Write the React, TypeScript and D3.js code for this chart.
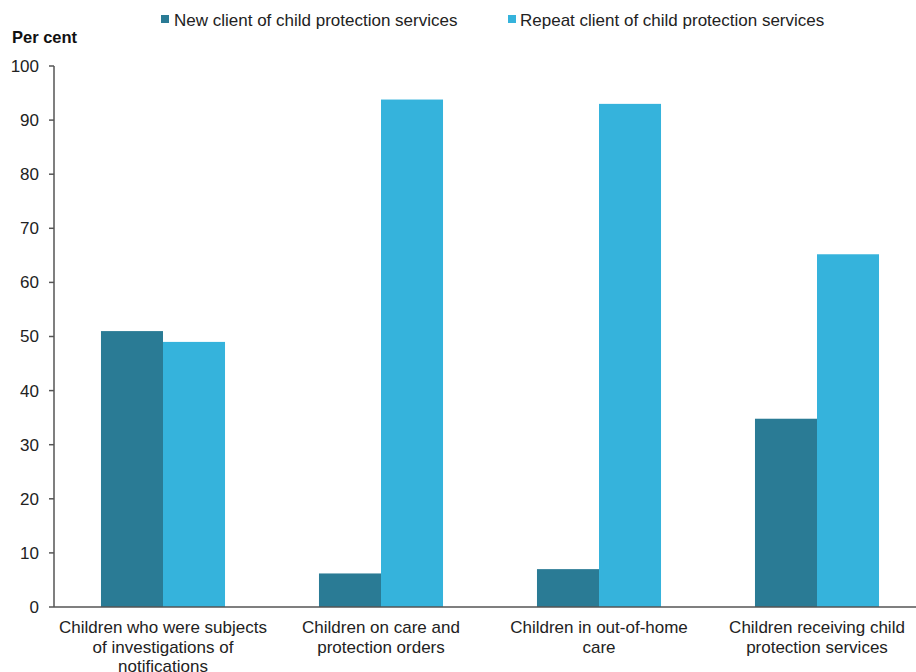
import React from "react";
import * as d3 from "d3";

const categories = [
  ["Children who were subjects", "of investigations of", "notifications"],
  ["Children on care and", "protection orders"],
  ["Children in out-of-home", "care"],
  ["Children receiving child", "protection services"],
];
const seriesNames = ["New client of child protection services", "Repeat client of child protection services"];
const newClient = [51, 6.2, 7, 34.8];
const repeatClient = [49, 93.8, 93, 65.2];
const yTicks = [0, 10, 20, 30, 40, 50, 60, 70, 80, 90, 100];
const colors = ["#2A7B95", "#35B3DC"];

export default function App() {
  const W = 916, H = 672;
  const left = 54, right = 926, top = 66, bottom = 607;
  const catKeys = categories.map((c, i) => String(i));
  const x0 = d3.scaleBand().domain(catKeys).range([left, right]).paddingInner(0.431).paddingOuter(0.2155);
  const x1 = d3.scaleBand().domain(["0", "1"]).range([0, x0.bandwidth()]);
  const y = d3.scaleLinear().domain([0, 100]).range([bottom, top]);
  const series = [newClient, repeatClient];
  const font = "'Liberation Sans', Arial, sans-serif";
  const fs = 17;

  return (
    <svg width={W} height={H} style={{ position: "absolute", left: 0, top: 0, background: "#fff" }} fontFamily={font}>
      {/* legend */}
      <rect x={161} y={15} width={8} height={8} fill={colors[0]} />
      <text x={174} y={26} fontSize={fs} fill="#222">{seriesNames[0]}</text>
      <rect x={508} y={15} width={8} height={8} fill={colors[1]} />
      <text x={520} y={26} fontSize={fs} fill="#222">{seriesNames[1]}</text>
      <text x={12} y={43} fontSize={16.5} fontWeight="bold" fill="#111">Per cent</text>
      {/* bars */}
      {series.map((vals, si) =>
        vals.map((v, ci) => (
          <rect
            key={`${si}-${ci}`}
            x={(x0(String(ci)) as number) + (x1(String(si)) as number)}
            y={y(v)}
            width={x1.bandwidth()}
            height={y(0) - y(v)}
            fill={colors[si]}
          />
        ))
      )}
      {/* y axis */}
      <line x1={left} x2={left} y1={y(100)} y2={y(0)} stroke="#555" strokeWidth={1.5} />
      {yTicks.map((t) => (
        <g key={t}>
          <line x1={left - 5} x2={left} y1={y(t)} y2={y(t)} stroke="#555" strokeWidth={1.5} />
          <text x={39} y={y(t)} dy="0.35em" textAnchor="end" fontSize={fs} fill="#222">{t}</text>
        </g>
      ))}
      {/* x axis */}
      <line x1={left} x2={W} y1={y(0)} y2={y(0)} stroke="#555" strokeWidth={1.5} />
      {categories.map((lines, ci) => (
        <text key={ci} x={(x0(String(ci)) as number) + x0.bandwidth() / 2} textAnchor="middle" fontSize={fs} fill="#222">
          {lines.map((l, li) => (
            <tspan key={li} x={(x0(String(ci)) as number) + x0.bandwidth() / 2} y={633 + li * 19.5}>{l}</tspan>
          ))}
        </text>
      ))}
    </svg>
  );
}
